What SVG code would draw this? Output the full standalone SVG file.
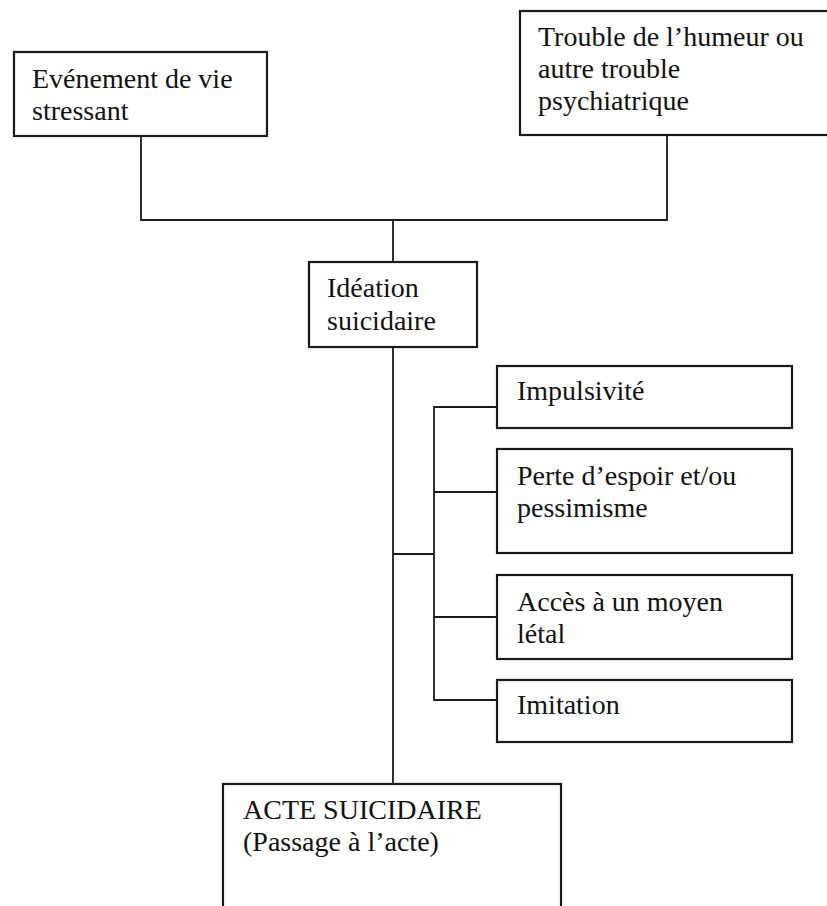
<svg xmlns="http://www.w3.org/2000/svg" width="827" height="906" viewBox="0 0 827 906">
<style>
.box{fill:#fff;stroke:#1a1a1a;stroke-width:2.2}
.ln{fill:none;stroke:#1a1a1a;stroke-width:1.8}
.t{font-family:"Liberation Serif","Times New Roman",serif;font-size:28px;fill:#111}
</style>
<rect width="827" height="906" fill="#fff"/>
<g id="connectors">
<path class="ln" d="M141 136 V220 H667 V135"/>
<path class="ln" d="M393 220 V262"/>
<path class="ln" d="M393 347 V784"/>
<path class="ln" d="M393 554 H434"/>
<path class="ln" d="M497 407 H434 V700 H497"/>
<path class="ln" d="M434 492 H497"/>
<path class="ln" d="M434 617 H497"/>
</g>
<g id="evenement">
<rect class="box" x="14" y="52" width="253" height="84"/>
<text class="t" x="32" y="88">Evénement de vie</text>
<text class="t" x="32" y="120">stressant</text>
</g>
<g id="trouble">
<rect class="box" x="520" y="11" width="320" height="124"/>
<text class="t" x="538" y="46">Trouble de l’humeur ou</text>
<text class="t" x="538" y="78">autre trouble</text>
<text class="t" x="538" y="110">psychiatrique</text>
</g>
<g id="ideation">
<rect class="box" x="309" y="262" width="168" height="85"/>
<text class="t" x="327" y="297">Idéation</text>
<text class="t" x="327" y="330">suicidaire</text>
</g>
<g id="impulsivite">
<rect class="box" x="497" y="366" width="295" height="62"/>
<text class="t" x="517" y="400">Impulsivité</text>
</g>
<g id="perte">
<rect class="box" x="497" y="449" width="295" height="104"/>
<text class="t" x="517" y="485">Perte d’espoir et/ou</text>
<text class="t" x="517" y="517">pessimisme</text>
</g>
<g id="acces">
<rect class="box" x="497" y="575" width="295" height="84"/>
<text class="t" x="517" y="611">Accès à un moyen</text>
<text class="t" x="517" y="643">létal</text>
</g>
<g id="imitation">
<rect class="box" x="497" y="680" width="295" height="62"/>
<text class="t" x="517" y="714">Imitation</text>
</g>
<g id="acte">
<rect class="box" x="223" y="784" width="338" height="140"/>
<text class="t" x="243" y="819">ACTE SUICIDAIRE</text>
<text class="t" x="243" y="851">(Passage à l’acte)</text>
</g>
</svg>
